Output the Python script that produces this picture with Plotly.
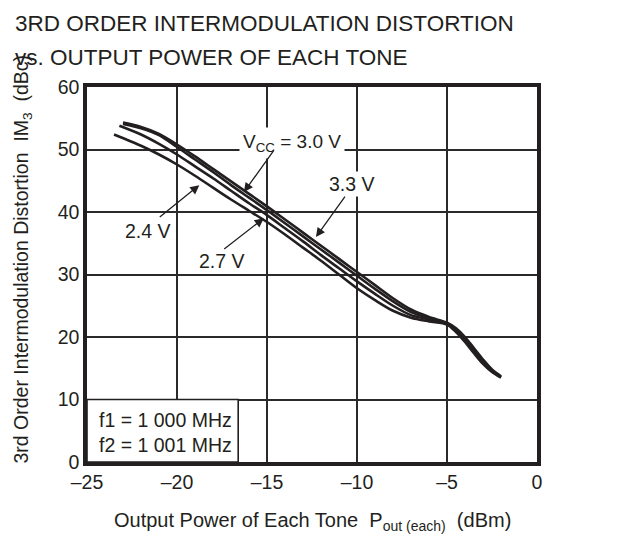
import plotly.graph_objects as go

# ---- data ----
x_33 = [-23, -22, -21, -20, -19, -18, -17, -16, -15, -14, -13, -12, -11, -10, -9, -8, -7, -6, -5, -4.5, -4, -3.5, -3, -2.5, -2]
y_33 = [54.3, 53.6, 52.5, 50.8, 48.9, 46.9, 44.9, 42.9, 40.9, 38.8, 36.7, 34.6, 32.5, 30.4, 28.3, 26.2, 24.4, 23.2, 22.3, 21.4, 20.0, 18.2, 16.4, 14.8, 13.7]

x_30 = [-23, -22, -21, -20, -19, -18, -17, -16, -15, -14, -13, -12, -11, -10, -9, -8, -7, -6, -5, -4.5, -4, -3.5, -3, -2.5, -2]
y_30 = [54.1, 53.4, 52.3, 50.4, 48.4, 46.4, 44.3, 42.3, 40.3, 38.2, 36.1, 34.0, 31.9, 29.8, 27.7, 25.7, 24.0, 23.0, 22.2, 21.2, 19.7, 17.9, 16.1, 14.6, 13.6]

x_27 = [-23.2, -22, -21, -20, -19, -18, -17, -16, -15, -14, -13, -12, -11, -10, -9, -8, -7, -6, -5, -4.5, -4, -3.5, -3, -2.5, -2]
y_27 = [53.8, 52.4, 50.9, 49.2, 47.3, 45.4, 43.4, 41.4, 39.5, 37.4, 35.3, 33.1, 31.0, 28.9, 26.9, 25.0, 23.5, 22.8, 22.1, 21.0, 19.5, 17.7, 15.9, 14.5, 13.6]

x_24 = [-23.5, -22, -21, -20, -19, -18, -17, -16, -15, -14, -13, -12, -11, -10, -9, -8, -7, -6, -5, -4.5, -4, -3.5, -3, -2.5, -2]
y_24 = [52.4, 50.6, 49.2, 47.6, 45.8, 43.9, 42.0, 40.2, 38.4, 36.4, 34.3, 32.2, 30.0, 27.8, 25.9, 24.2, 23.1, 22.5, 22.0, 20.8, 19.2, 17.4, 15.7, 14.4, 13.5]

x_tick_vals = [-25, -20, -15, -10, -5, 0]
x_tick_text = ["–25", "–20", "–15", "–10", "–5", "0"]
y_tick_vals = [0, 10, 20, 30, 40, 50, 60]
y_tick_text = ["0", "10", "20", "30", "40", "50", "60"]

series = [("3.3 V", x_33, y_33), ("3.0 V", x_30, y_30), ("2.7 V", x_27, y_27), ("2.4 V", x_24, y_24)]

FONT = "Liberation Sans, Arial, Helvetica, sans-serif"
INK = "#231f20"
FS = 19.5

fig = go.Figure()
for name, xs, ys in series:
    fig.add_trace(go.Scatter(x=xs, y=ys, mode="lines", name=name,
                             line=dict(color=INK, width=2.6, shape="spline", smoothing=0.8),
                             showlegend=False, hoverinfo="skip"))

# page body has an 8px margin, so the figure is 8px smaller and margins shifted
fig.update_layout(
    width=613, height=529, autosize=False,
    margin=dict(l=79, r=84, t=79, b=75),
    paper_bgcolor="white", plot_bgcolor="white",
    font=dict(family=FONT, size=FS, color=INK),
    showlegend=False,
)
fig.update_xaxes(range=[-25, 0], tickvals=x_tick_vals, ticktext=x_tick_text,
                 showgrid=True, gridcolor="#2a2a2a", gridwidth=1.6,
                 showline=True, linecolor=INK, linewidth=3.5, mirror=True,
                 ticks="", zeroline=False, automargin=False,
                 tickfont=dict(size=FS, family=FONT, color=INK))
fig.update_yaxes(range=[0, 60], tickvals=y_tick_vals, ticktext=y_tick_text,
                 showgrid=True, gridcolor="#2a2a2a", gridwidth=1.6,
                 showline=True, linecolor=INK, linewidth=3.5, mirror=True,
                 ticks="", zeroline=False, automargin=False,
                 tickfont=dict(size=FS, family=FONT, color=INK))

# frequency box
fig.add_shape(type="rect", xref="x", yref="y", x0=-25, x1=-16.6, y0=0, y1=10,
              fillcolor="white", line=dict(color=INK, width=1.6), layer="between")
fig.add_annotation(xref="x", yref="y", x=-24.45, y=6.8, text="f1 = 1 000 MHz", showarrow=False,
                   xanchor="left", yanchor="middle", font=dict(size=FS, family=FONT, color=INK))
fig.add_annotation(xref="x", yref="y", x=-24.45, y=2.7, text="f2 = 1 001 MHz", showarrow=False,
                   xanchor="left", yanchor="middle", font=dict(size=FS, family=FONT, color=INK))

# curve labels
fig.add_annotation(xref="x", yref="y", x=-13.6, y=51.0, text="V<sub>CC</sub> = 3.0 V", showarrow=False,
                   xanchor="center", yanchor="middle", bgcolor="white", borderpad=3,
                   font=dict(size=19, family=FONT, color=INK))
fig.add_annotation(xref="x", yref="y", x=-10.3, y=44.5, text="3.3 V", showarrow=False,
                   xanchor="center", yanchor="middle", bgcolor="white", borderpad=1,
                   font=dict(size=FS, family=FONT, color=INK))
fig.add_annotation(xref="x", yref="y", x=-21.6, y=36.9, text="2.4 V", showarrow=False,
                   xanchor="center", yanchor="middle", bgcolor="white", borderpad=1,
                   font=dict(size=FS, family=FONT, color=INK))
fig.add_annotation(xref="x", yref="y", x=-17.5, y=32.1, text="2.7 V", showarrow=False,
                   xanchor="center", yanchor="middle", bgcolor="white", borderpad=1,
                   font=dict(size=FS, family=FONT, color=INK))

# arrows (tail -> head)
arrows = [
    (-14.56, 50.1, -16.28, 43.2),
    (-10.61, 42.7, -12.28, 36.0),
    (-21.04, 39.0, -18.76, 44.3),
    (-17.46, 33.9, -15.18, 39.0),
]
for ax_, ay_, hx, hy in arrows:
    fig.add_annotation(xref="x", yref="y", axref="x", ayref="y", x=hx, y=hy, ax=ax_, ay=ay_,
                       text="", showarrow=True, arrowhead=2, arrowsize=1.4, arrowwidth=1.3,
                       arrowcolor=INK, standoff=0, startstandoff=0)

# titles
fig.add_annotation(xref="paper", yref="paper", x=0, xshift=-74, y=1.0, yshift=64,
                   text="3RD ORDER INTERMODULATION DISTORTION", showarrow=False,
                   xanchor="left", yanchor="middle", font=dict(size=22.5, family=FONT, color=INK))
fig.add_annotation(xref="paper", yref="paper", x=0, xshift=-74, y=1.0, yshift=30,
                   text="vs. OUTPUT POWER OF EACH TONE", showarrow=False,
                   xanchor="left", yanchor="middle", font=dict(size=22.5, family=FONT, color=INK))
fig.add_annotation(xref="paper", yref="paper", x=0.5, y=0, yshift=-59,
                   text="Output Power of Each Tone  P<sub>out (each)</sub>  (dBm)", showarrow=False,
                   xanchor="center", yanchor="middle", font=dict(size=20, family=FONT, color=INK))
fig.add_annotation(xref="paper", yref="paper", x=0, xshift=-65, y=0.5, yshift=15,
                   text="3rd Order Intermodulation Distortion  IM<sub>3</sub>  (dBc)", showarrow=False,
                   textangle=-90, xanchor="center", yanchor="middle", font=dict(size=19.5, family=FONT, color=INK))

fig.write_html("out.html")
